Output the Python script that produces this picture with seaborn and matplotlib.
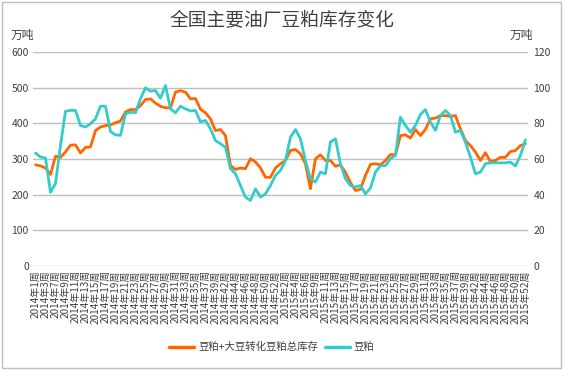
import numpy as np
import pandas as pd
import seaborn as sns
import matplotlib.pyplot as plt
from matplotlib.lines import Line2D

# weeks present in the data (a few weeks are missing)
weeks_2014 = [1, 2, 3, 5] + list(range(7, 41)) + list(range(42, 53))
weeks_2015 = [1, 2, 3, 4, 5, 6, 8] + list(range(9, 41)) + list(range(42, 53))
categories = [f"2014年{w}周" for w in weeks_2014] + [f"2015年{w}周" for w in weeks_2015]

# 豆粕+大豆转化豆粕总库存 (万吨, left axis)
total_stock = [284, 281, 275, 257, 308, 305, 320, 339, 340, 317,
               333, 334, 380, 390, 394, 396, 402, 407, 432, 439,
               439, 450, 467, 469, 457, 448, 444, 444, 488, 492,
               488, 469, 470, 440, 430, 413, 380, 383, 366, 282,
               271, 275, 273, 301, 292, 275, 249, 249, 275, 287,
               296, 324, 327, 315, 287, 217, 301, 312, 296, 296,
               280, 284, 263, 234, 212, 215, 254, 285, 287, 284,
               296, 313, 312, 366, 368, 359, 383, 366, 383, 413,
               415, 422, 422, 420, 422, 385, 352, 338, 320, 296,
               318, 293, 296, 305, 305, 321, 324, 338, 343]

# 豆粕 (万吨, right axis)
meal_stock = [63.4, 61.2, 60.6, 41.4, 46.2, 67.6, 86.9, 87.3, 87.3, 78.9,
              78.0, 79.8, 82.6, 89.7, 89.7, 75.5, 73.6, 73.3, 85.3, 86.3,
              86.0, 93.8, 100.0, 98.1, 98.5, 94.2, 101.3, 88.2, 86.0, 89.7,
              88.2, 87.0, 87.3, 80.8, 81.7, 77.0, 70.4, 68.6, 66.7, 54.6,
              51.8, 45.2, 38.7, 36.8, 43.3, 38.7, 40.5, 45.2, 50.8, 53.6,
              59.2, 72.3, 76.6, 71.4, 59.2, 49.0, 47.1, 52.7, 51.8, 69.6,
              71.4, 57.4, 49.0, 45.2, 44.3, 45.2, 40.5, 43.7, 52.7, 56.3,
              56.3, 60.2, 62.0, 83.5, 78.9, 75.1, 78.9, 85.0, 87.8, 80.8,
              76.1, 84.5, 87.3, 84.5, 75.1, 76.1, 69.6, 61.1, 51.8, 52.7,
              57.4, 57.9, 57.9, 57.9, 57.9, 58.3, 56.1, 62.0, 70.8]

left_ticks = [0, 100, 200, 300, 400, 500, 600]
right_ticks = [0, 20, 40, 60, 80, 100, 120]

df = pd.DataFrame({"pos": np.arange(len(categories)), "week": categories,
                   "total": total_stock, "meal": meal_stock})

sns.set_style("white")
plt.rcParams['font.family'] = ['Noto Sans CJK SC', 'DejaVu Sans']

orange = "#FF6600"
cyan = "#33CCCC"
grid_c = "#BFBFBF"
text_c = "#404040"

fig = plt.figure(figsize=(5.64, 3.70), dpi=100)
ax = fig.add_axes([0.0585, 0.281, 0.8775, 0.578])
ax2 = ax.twinx()

sns.lineplot(data=df, x="pos", y="total", ax=ax, color=orange, linewidth=2.0, legend=False)
sns.lineplot(data=df, x="pos", y="meal", ax=ax2, color=cyan, linewidth=2.0, legend=False)

ax.set_xlim(-0.5, len(categories) - 0.5)
ax.set_ylim(0, 600)
ax2.set_ylim(0, 120)
ax.set_yticks(left_ticks)
ax2.set_yticks(right_ticks)
ax.set_yticklabels([str(t) for t in left_ticks], fontsize=7.5, color=text_c)
ax2.set_yticklabels([str(t) for t in right_ticks], fontsize=7.5, color=text_c)
ax.yaxis.grid(True, color=grid_c, linewidth=1.0)
ax.set_axisbelow(True)

ax.set_xticks(df["pos"][::2])
ax.set_xticklabels(df["week"][::2], rotation=90, fontsize=7.2, color=text_c)
ax.tick_params(axis="both", length=0, pad=3)
ax2.tick_params(axis="y", length=0, pad=4)
ax.set_xlabel("")
ax.set_ylabel("")
ax2.set_ylabel("")
for a in (ax, ax2):
    for s in a.spines.values():
        s.set_visible(False)

fig.text(0.5, 0.945, "全国主要油厂豆粕库存变化", ha="center", va="center", fontsize=13.5, color=text_c)
fig.text(0.018, 0.905, "万吨", ha="left", va="center", fontsize=8.5, color=text_c)
fig.text(0.945, 0.905, "万吨", ha="right", va="center", fontsize=8.5, color=text_c)

handles = [Line2D([], [], color=orange, linewidth=2.5), Line2D([], [], color=cyan, linewidth=2.5)]
fig.legend(handles, ["豆粕+大豆转化豆粕总库存", "豆粕"], loc="center", bbox_to_anchor=(0.482, 0.062),
           ncol=2, frameon=False, fontsize=7.5, handlelength=2.4, columnspacing=0.6, handletextpad=0.4,
           labelcolor=text_c)

fig.patches.append(plt.Rectangle((0.004, 0.006), 0.99, 0.988, transform=fig.transFigure,
                                 fill=False, edgecolor="#BFBFBF", linewidth=1.0))

fig.savefig("out.png", dpi=100)
